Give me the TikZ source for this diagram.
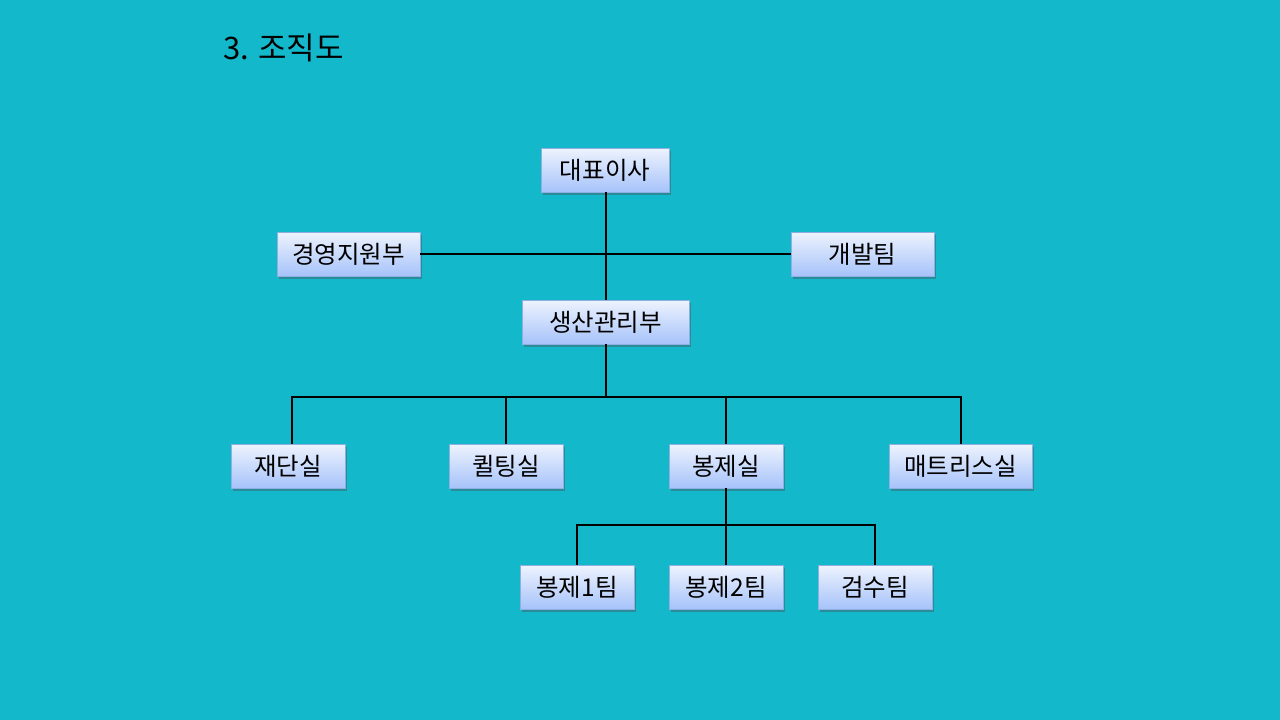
\documentclass[tikz,border=0pt]{standalone}
\usepackage{fontspec}
\setmainfont{Noto Sans CJK KR}
\usetikzlibrary{shadows}
\definecolor{bgc}{HTML}{13B8CB}
\definecolor{boxtop}{HTML}{EEF3FE}
\definecolor{boxbot}{HTML}{A6C3FA}
\definecolor{boxline}{HTML}{8FAEE2}
\tikzset{
  unit box/.style={draw=boxline, line width=0.8pt, top color=boxtop, bottom color=boxbot,
    minimum height=44pt, inner sep=0pt, font=\fontsize{24.5}{24.5}\selectfont,
    drop shadow={shadow xshift=2pt, shadow yshift=-2.5pt, opacity=0.4, fill=black!70}},
  link/.style={line width=1.8pt, black}
}
\begin{document}
\begin{tikzpicture}[x=1pt,y=-1pt]
\fill[bgc] (0,0) rectangle (1280,720);
\useasboundingbox (0,0) rectangle (1280,720);
\node[anchor=west, font=\fontsize{31}{31}\selectfont, inner sep=0pt] (title) at (223,48) {3. 조직도};

\node[unit box, minimum width=128pt] (ceo) at (605,170) {대표이사};
\node[unit box, minimum width=143pt] (mgmt) at (348.5,254) {경영지원부};
\node[unit box, minimum width=143pt] (dev) at (862.5,254) {개발팀};
\node[unit box, minimum width=167pt] (prod) at (605.5,322) {생산관리부};

\node[unit box, minimum width=114pt] (cut) at (288,466) {재단실};
\node[unit box, minimum width=114pt] (quilt) at (506,466) {퀼팅실};
\node[unit box, minimum width=114pt] (sew) at (726,466) {봉제실};
\node[unit box, minimum width=143pt] (mat) at (960.5,466) {매트리스실};

\node[unit box, minimum width=114pt] (s1) at (577,587) {봉제1팀};
\node[unit box, minimum width=114pt] (s2) at (726,587) {봉제2팀};
\node[unit box, minimum width=114pt] (insp) at (875,587) {검수팀};

\coordinate (j1) at (606,254);
\coordinate (j2) at (606,397);
\coordinate (j3) at (726,525);

\draw[link] (ceo.south -| j1) -- (prod.north -| j1);
\draw[link] (mgmt.east) -- (dev.west);
\draw[link] (prod.south -| j2) -- (j2);
\draw[link] (cut.north -| 292,0) |- (j2) -| (mat.north -| 961,0);
\draw[link] (quilt.north) -- (quilt.north |- j2);
\draw[link] (sew.north) -- (sew.north |- j2);
\draw[link] (sew.south) -- (j3);
\draw[link] (s1.north) |- (j3) -| (insp.north);
\draw[link] (s2.north) -- (s2.north |- j3);
\end{tikzpicture}
\end{document}
